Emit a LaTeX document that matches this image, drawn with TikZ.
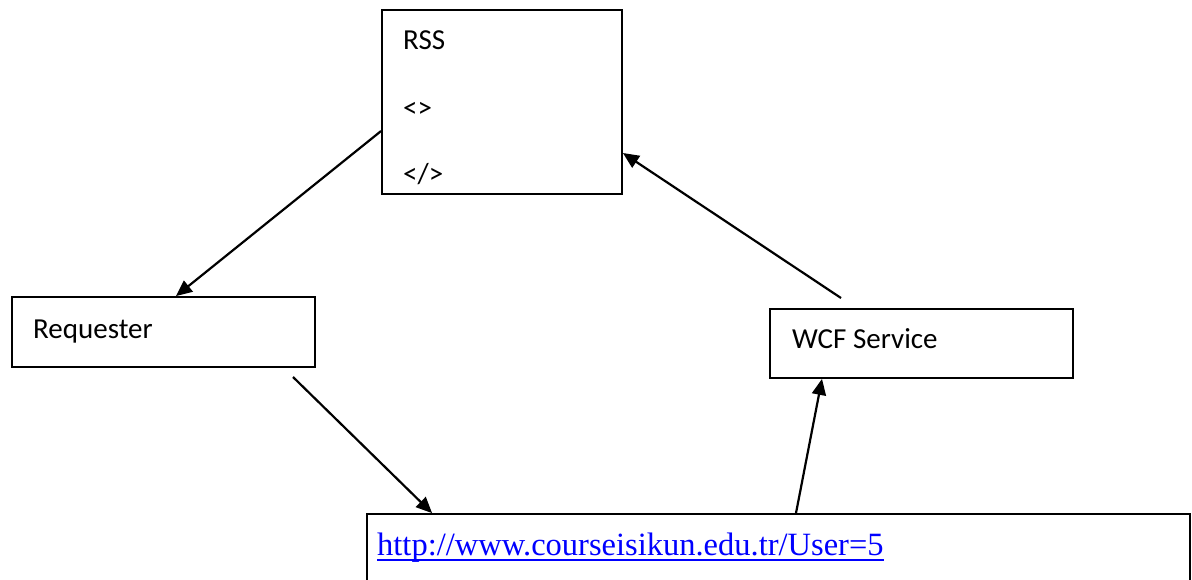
\documentclass[tikz,border=0pt]{standalone}
\usepackage{fontspec}
\setmainfont{Carlito}
\newfontfamily\urlfont{Liberation Serif}
\usetikzlibrary{arrows.meta,calc}
\definecolor{linkblue}{RGB}{0,0,255}
\tikzset{
  box/.style={draw, line width=1.8pt, rectangle, inner sep=0pt},
  lbl/.style={anchor=base west, inner sep=0pt, font=\fontsize{29}{32}\selectfont},
  conn/.style={line width=2.2pt, -{Triangle[length=16pt,width=14pt]}},
}
\begin{document}
\begin{tikzpicture}[x=1pt,y=-1pt]
\useasboundingbox[fill=white] (0,0) rectangle (1192,579);
% boxes
\node[box, minimum width=240pt, minimum height=184pt] (rss) at (502,102) {};
\node[box, minimum width=303pt, minimum height=70pt] (req) at (163.5,332) {};
\node[box, minimum width=303pt, minimum height=69pt] (wcf) at (921.5,343.5) {};
\node[box, minimum width=823pt, minimum height=90pt] (url) at (778.5,559) {};
% texts
\node[lbl] (rsst) at (403,49) {RSS};
\node[lbl] (open) at (403,117) {<>};
\node[lbl] (close) at (403,183) {</>};
\node[lbl] (reqt) at (33,338) {Requester};
\node[lbl] (wcft) at (792,348) {WCF Service};
\node[anchor=base west, inner sep=0pt, text=linkblue, font=\urlfont\fontsize{32.5}{36}\selectfont] (urlt) at (377,555) {http://www.courseisikun.edu.tr/User=5};
\draw[linkblue, line width=2pt] ([yshift=-5pt]urlt.base west) -- ([yshift=-5pt]urlt.base east);
% connector endpoints
\coordinate (a1s) at ([yshift=-29pt]rss.west);
\coordinate (a1e) at ([xshift=12.5pt]req.north);
\coordinate (a2s) at (293,377);
\coordinate (a2e) at ([xshift=66pt]url.north west);
\coordinate (a3s) at ([xshift=17.5pt]url.north);
\coordinate (a3e) at ([xshift=-99.5pt]wcf.south);
\coordinate (a4s) at (841,298);
\coordinate (a4e) at ([yshift=-51pt]rss.east);
\draw[conn] (a1s) -- (a1e);
\draw[conn] (a2s) -- (a2e);
\draw[conn] (a3s) -- (a3e);
\draw[conn] (a4s) -- (a4e);
\end{tikzpicture}
\end{document}
